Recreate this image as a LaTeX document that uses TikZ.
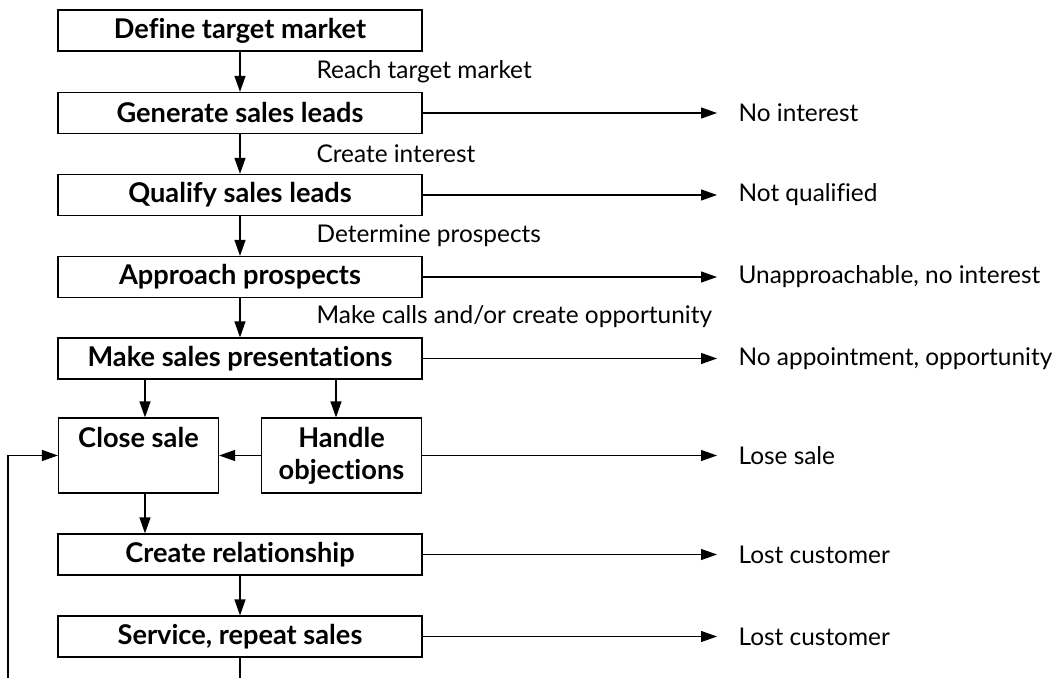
\documentclass[tikz,border=0pt]{standalone}
\usepackage{fontspec}
\setmainfont{Lato}[Ligatures=NoCommon]
\usetikzlibrary{arrows.meta}

\begin{document}
\begin{tikzpicture}[x=0.5pt,y=-0.5pt,line width=0.6pt,
  box/.style={draw,inner sep=0pt,minimum width=182pt,minimum height=20.5pt,font=\bfseries\fontsize{13.6}{16}\selectfont},
  smallbox/.style={box,minimum width=80pt,minimum height=37.5pt,align=center},
  note/.style={anchor=west,inner sep=0pt,font=\fontsize{12.2}{14}\selectfont},
  arr/.style={-{Triangle[length=8pt,width=5.5pt]}},
  exitarr/.style={arr,shorten >=10.5pt}]
\useasboundingbox (0,0) rectangle (1053,678);

\node[box] (define) at (240,30.5) {Define target market};
\node[box] (gen) at (240,113) {Generate sales leads};
\node[box] (qualify) at (240,195) {Qualify sales leads};
\node[box] (approach) at (240,277) {Approach prospects};
\node[box] (present) at (240,358.5) {Make sales presentations};
\node[smallbox] (close) at (138.5,455.5) {Close sale\\\phantom{objections}};
\node[smallbox] (handle) at (341.5,455.5) {Handle\\objections};
\node[box] (create) at (240,554.5) {Create relationship};
\node[box] (service) at (240,636.5) {Service, repeat sales};

\node[note] (reach) at (316,72) {Reach target market};
\node[note] (interest) at (316,154) {Create interest};
\node[note] (determine) at (316,236) {Determine prospects};
\node[note] (calls) at (316,317) {Make calls and/or create opportunity};

\node[note] (nointerest) at (738,113) {No interest};
\node[note] (notqual) at (738,195) {Not qualified};
\node[note] (unappr) at (738,277) {Unapproachable, no interest};
\node[note] (noappt) at (738,358.5) {No appointment, opportunity};
\node[note] (lose) at (738,455.5) {Lose sale};
\node[note] (lost1) at (738,554.5) {Lost customer};
\node[note] (lost2) at (738,636.5) {Lost customer};

\coordinate (svcend) at (240,678);
\coordinate (loopend) at (8,678);

\draw[arr] (define) -- (gen);
\draw[arr] (gen) -- (qualify);
\draw[arr] (qualify) -- (approach);
\draw[arr] (approach) -- (present);
\draw[arr] ([xshift=3.25pt]close.north |- present.south) -- ([xshift=3.25pt]close.north);
\draw[arr] ([xshift=-2.75pt]handle.north |- present.south) -- ([xshift=-2.75pt]handle.north);
\draw[arr] (handle.west) -- (close.east);
\draw[arr] ([xshift=3.25pt]close.south) -- ([xshift=3.25pt]close.south |- create.north);
\draw[arr] (create) -- (service);
\draw (service.south) -- (svcend);
\draw[arr] (loopend) |- (close.west);

\draw[exitarr] (gen.east) -- (nointerest.west);
\draw[exitarr] (qualify.east) -- (notqual.west);
\draw[exitarr] (approach.east) -- (unappr.west);
\draw[exitarr] (present.east) -- (noappt.west);
\draw[exitarr] (handle.east) -- (lose.west);
\draw[exitarr] (create.east) -- (lost1.west);
\draw[exitarr] (service.east) -- (lost2.west);
\end{tikzpicture}
\end{document}
